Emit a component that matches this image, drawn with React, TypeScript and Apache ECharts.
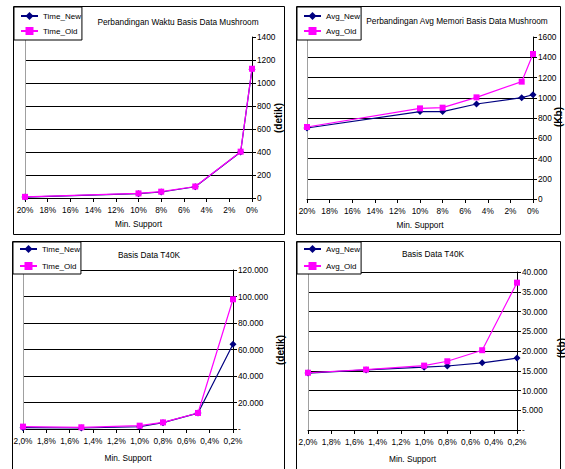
import React, { useEffect, useRef } from 'react';
import * as echarts from 'echarts';

// ---- data ----
const mushroomSupport = [20, 10, 8, 5, 1, 0];
const mushroomTimeNew = [8, 38, 52, 98, 400, 1120];
const mushroomTimeOld = [10, 40, 55, 100, 403, 1124];
const mushroomAvgNew = [701, 863, 863, 938, 1001, 1030];
const mushroomAvgOld = [711, 895, 902, 1004, 1159, 1432];

const t40kSupport = [2.0, 1.5, 1.0, 0.8, 0.5, 0.2];
const t40kTimeNew = [1000, 750, 1700, 4780, 12000, 63900];
const t40kTimeOld = [1800, 1300, 2500, 5000, 12100, 97900];
const t40kAvgNew = [14400, 15200, 15900, 16200, 17000, 18200];
const t40kAvgOld = [14500, 15300, 16300, 17400, 20200, 37300];

const titles = [
  'Perbandingan Waktu Basis Data Mushroom',
  'Perbandingan Avg Memori Basis Data Mushroom',
  'Basis Data T40K',
  'Basis Data T40K',
];
const timeNames = ['Time_New', 'Time_Old'];
const avgNames = ['Avg_New', 'Avg_Old'];
const xAxisName = 'Min. Support';
const yNames = ['(detik)', '(Kb)', '(detik)', '(Kb)'];

const FONT = '"Liberation Sans", Arial, sans-serif';
const FS = 8.3;
const NAVY = '#000080';
const MAG = '#ff00ff';

const pctFmt = (v: number) => `${v}%`;
const pctCommaFmt = (v: number) => `${v.toFixed(1).replace('.', ',')}%`;
const plainFmt = (v: number) => String(v);
const dotFmt = (v: number) =>
  v === 0 ? '-' : String(Math.round(v)).replace(/\B(?=(\d{3})+(?!\d))/g, '.');

const panels = [
  {
    grid: { left: 25, top: 37, width: 227, height: 161 },
    xMin: 0, xMax: 20, xInt: 2, xFmt: pctFmt, xNameGap: 22,
    yMax: 1400, yInt: 200, yFmt: plainFmt, yName: yNames[0], yNamePos: [278, 118], showMax: false,
    title: titles[0], titleX: 178, titleY: 22,
    legend: { left: 14, top: 7, pad: [5, 1, 5, 6], gap: 7 },
    names: timeNames, xs: mushroomSupport, a: mushroomTimeNew, b: mushroomTimeOld,
    box: [13.5, 6.5, 271, 228],
  },
  {
    grid: { left: 307, top: 37, width: 226, height: 162 },
    xMin: 0, xMax: 20, xInt: 2, xFmt: pctFmt, xNameGap: 22,
    yMax: 1600, yInt: 200, yFmt: plainFmt, yName: yNames[1], yNamePos: [558, 117], showMax: false,
    title: titles[1], titleX: 457, titleY: 21,
    legend: { left: 297, top: 7, pad: [5, 1, 5, 6], gap: 7 },
    names: avgNames, xs: mushroomSupport, a: mushroomAvgNew, b: mushroomAvgOld,
    box: [296.5, 6.5, 264, 228],
  },
  {
    grid: { left: 23, top: 270, width: 210, height: 159 },
    xMin: 0.2, xMax: 2.0, xInt: 0.2, xFmt: pctCommaFmt, xNameGap: 25,
    yMax: 120000, yInt: 20000, yFmt: dotFmt, yName: yNames[2], yNamePos: [280, 350], showMax: true,
    title: titles[2], titleX: 149, titleY: 255,
    legend: { left: 13, top: 242, pad: [3, 1, 4, 6], gap: 9 },
    names: timeNames, xs: t40kSupport, a: t40kTimeNew, b: t40kTimeOld,
    box: [12.5, 241.5, 272, 240],
  },
  {
    grid: { left: 308, top: 272, width: 209, height: 158 },
    xMin: 0.2, xMax: 2.0, xInt: 0.2, xFmt: pctCommaFmt, xNameGap: 25,
    yMax: 40000, yInt: 5000, yFmt: dotFmt, yName: yNames[3], yNamePos: [561, 348], showMax: true,
    title: titles[3], titleX: 433, titleY: 254,
    legend: { left: 297, top: 242, pad: [3, 1, 4, 6], gap: 9 },
    names: avgNames, xs: t40kSupport, a: t40kAvgNew, b: t40kAvgOld,
    box: [296.5, 241.5, 264, 240],
  },
];

function buildOption() {
  const textBase = { fontFamily: FONT, fontSize: FS, color: '#000' };
  const grid: any[] = [];
  const xAxis: any[] = [];
  const yAxis: any[] = [];
  const series: any[] = [];
  const legend: any[] = [];
  const graphic: any[] = [];

  panels.forEach((p, i) => {
    grid.push({ ...p.grid, containLabel: false });
    xAxis.push({
      type: 'value',
      gridIndex: i,
      inverse: true,
      min: p.xMin,
      max: p.xMax,
      interval: p.xInt,
      name: xAxisName,
      nameLocation: 'middle',
      nameGap: p.xNameGap,
      nameMoveOverlap: false,
      nameTextStyle: { ...textBase },
      axisLine: { show: true, onZero: false, lineStyle: { color: '#000', width: 1 } },
      axisTick: { show: true, length: 4, lineStyle: { color: '#000' } },
      axisLabel: { ...textBase, margin: 8, formatter: p.xFmt },
      splitLine: { show: false },
    });
    yAxis.push({
      type: 'value',
      gridIndex: i,
      position: 'right',
      min: 0,
      max: p.yMax,
      interval: p.yInt,
      axisLine: { show: true, onZero: false, lineStyle: { color: '#000', width: 1 } },
      axisTick: { show: true, length: 4, lineStyle: { color: '#000' } },
      axisLabel: { ...textBase, margin: 5, formatter: p.yFmt },
      splitLine: {
        show: true,
        showMinLine: false,
        showMaxLine: p.showMax,
        lineStyle: { color: '#000', width: 1 },
      },
    });
    yAxis.push({
      type: 'value',
      gridIndex: i,
      position: 'left',
      min: 0,
      max: p.yMax,
      axisLine: { show: true, onZero: false, lineStyle: { color: '#a0a0a0', width: 1 } },
      axisTick: { show: false },
      axisLabel: { show: false },
      splitLine: { show: false },
    });
    const yIdx = i * 2;
    series.push({
      type: 'line',
      name: p.names[0],
      xAxisIndex: i,
      yAxisIndex: yIdx,
      data: p.xs.map((x, k) => [x, p.a[k]]),
      symbol: 'diamond',
      symbolSize: 7,
      lineStyle: { color: NAVY, width: 1.2 },
      itemStyle: { color: NAVY },
      z: 2,
    });
    series.push({
      type: 'line',
      name: p.names[1],
      xAxisIndex: i,
      yAxisIndex: yIdx,
      data: p.xs.map((x, k) => [x, p.b[k]]),
      symbol: 'rect',
      symbolSize: 6,
      lineStyle: { color: MAG, width: 1.2 },
      itemStyle: { color: MAG },
      z: 3,
    });
    legend.push({
      data: p.names,
      orient: 'vertical',
      left: p.legend.left,
      top: p.legend.top,
      padding: p.legend.pad,
      itemGap: p.legend.gap,
      itemWidth: 17,
      itemHeight: 10,
      backgroundColor: '#fff',
      borderColor: '#000',
      borderWidth: 1,
      borderRadius: 0,
      selectedMode: false,
      textStyle: { ...textBase, fontSize: 8 },
      z: 5,
    });
    graphic.push({
      type: 'rect',
      shape: { x: p.box[0], y: p.box[1], width: p.box[2], height: p.box[3] },
      style: { fill: 'none', stroke: '#000', lineWidth: 1 },
      z: 1,
      silent: true,
    });
    graphic.push({
      type: 'text',
      x: p.titleX,
      y: p.titleY,
      style: {
        text: p.title,
        fontFamily: FONT,
        fontSize: FS,
        fill: '#000',
        align: 'center',
        verticalAlign: 'middle',
      },
      z: 4,
    });
    graphic.push({
      type: 'text',
      x: p.yNamePos[0],
      y: p.yNamePos[1],
      rotation: Math.PI / 2,
      style: {
        text: p.yName,
        fontFamily: FONT,
        fontSize: 10,
        fontWeight: 'bold',
        fill: '#000',
        align: 'center',
        verticalAlign: 'middle',
      },
      z: 4,
    });
  });

  return {
    animation: false,
    backgroundColor: '#fff',
    grid,
    xAxis,
    yAxis,
    series,
    legend,
    graphic,
  };
}

export default function App() {
  const ref = useRef<HTMLDivElement>(null);
  useEffect(() => {
    if (!ref.current) return;
    const chart = echarts.init(ref.current, undefined, { renderer: 'svg' });
    chart.setOption(buildOption() as any);
    return () => chart.dispose();
  }, []);
  return (
    <div
      ref={ref}
      style={{ position: 'fixed', left: 0, top: 0, width: 565, height: 469, background: '#fff' }}
    />
  );
}
